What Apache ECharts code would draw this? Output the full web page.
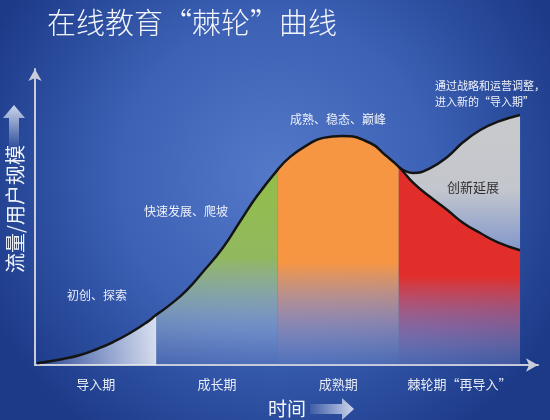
<!DOCTYPE html>
<html>
<head>
<meta charset="UTF-8">
<title>在线教育棘轮曲线</title>
<script src="https://cdn.jsdelivr.net/npm/echarts@6/dist/echarts.min.js"></script>
<style>
  html, body { margin: 0; padding: 0; }
  #main { width: 550px; height: 420px; }
</style>
</head>
<body>
<div id="main"></div>
<script>
// 时间轴上四个阶段的分界 (0~100)
var stageEdges = [0, 25, 50, 75, 100];
var stageNames = ['导入期', '成长期', '成熟期', '棘轮期“再导入”'];
var stageCenters = [12.5, 37.5, 62.5, 87.5];

// 主曲线 [时间, 流量]
var mainCurve = [
    [0.4, 0.6], [5.8, 2], [9.3, 3.3], [12.8, 5.3], [16.1, 7.6], [19.6, 10.6], [23.1, 14.2], [25, 16.6],
    [27.8, 19.9], [31.3, 24.8], [34.6, 30.8], [38.8, 39], [42.3, 47.6], [45.8, 56], [50, 64.6],
    [52.6, 68.9], [56.1, 72.8], [59.4, 75.2], [63.3, 75.8], [69.1, 73.5], [72.2, 69.5], [75, 65.6],
    [78, 60.3], [81.5, 55.6], [85, 51.3], [88.3, 47], [91.8, 43.7], [95.3, 40.7], [100, 38]
];
// 创新延展后的新曲线
var renewCurve = [
    [75, 65.6], [78, 63.6], [81.5, 65.2], [85, 68.9], [88.3, 73.8], [91.8, 77.8], [95.3, 80.5], [100, 82.8]
];

function stagePoints(i) {
    return mainCurve.filter(function (p) {
        return p[0] >= stageEdges[i] && p[0] <= stageEdges[i + 1];
    });
}

function vGrad(stops) {
    return { type: 'linear', x: 0, y: 0, x2: 0, y2: 1, colorStops: stops };
}

var stageFills = [
    { type: 'linear', x: 0, y: 0.2, x2: 1, y2: 0, colorStops: [
        { offset: 0, color: 'rgba(230,236,248,0.05)' },
        { offset: 1, color: 'rgba(235,238,246,0.9)' }] },
    vGrad([
        { offset: 0, color: 'rgba(146,190,72,1)' },
        { offset: 0.45, color: 'rgba(150,188,90,0.95)' },
        { offset: 0.8, color: 'rgba(175,195,215,0.45)' },
        { offset: 1, color: 'rgba(170,190,230,0.2)' }]),
    vGrad([
        { offset: 0, color: 'rgba(247,150,66,1)' },
        { offset: 0.55, color: 'rgba(247,150,66,1)' },
        { offset: 0.8, color: 'rgba(200,160,170,0.6)' },
        { offset: 1, color: 'rgba(160,180,225,0.25)' }]),
    vGrad([
        { offset: 0, color: 'rgba(226,46,42,1)' },
        { offset: 0.55, color: 'rgba(226,46,42,1)' },
        { offset: 0.8, color: 'rgba(190,110,150,0.6)' },
        { offset: 1, color: 'rgba(160,170,220,0.25)' }])
];

var series = [];
// 灰色的创新延展区域, 先画, 红色区域盖在下面部分
series.push({
    type: 'line',
    data: renewCurve,
    smooth: 0.5,
    showSymbol: false,
    lineStyle: { color: '#141414', width: 2.5 },
    areaStyle: {
        opacity: 1,
        color: vGrad([
            { offset: 0, color: '#c9cacc' },
            { offset: 0.3, color: '#c3c6cd' },
            { offset: 0.54, color: 'rgba(135,155,205,0.95)' },
            { offset: 0.62, color: 'rgba(135,155,205,0)' },
            { offset: 1, color: 'rgba(135,155,205,0)' }])
    },
    z: 2
});
for (var i = 0; i < 4; i++) {
    series.push({
        type: 'line',
        data: stagePoints(i),
        smooth: 0.5,
        showSymbol: false,
        lineStyle: { width: 0 },
        areaStyle: { color: stageFills[i], opacity: 1 },
        z: 2
    });
}
series.push({
    type: 'line',
    data: mainCurve,
    smooth: 0.5,
    showSymbol: false,
    lineStyle: { color: '#141414', width: 2.5 },
    z: 4
});

var txt = '#eef1f8';
var font = '"Noto Sans CJK SC", sans-serif';

var myChart = echarts.init(document.getElementById('main'));
var option = {
    animation: false,
    title: {
        text: '在线教育“棘轮”曲线',
        left: 42,
        top: 3,
        textStyle: { color: '#f3f5fb', fontSize: 29, fontWeight: 300, fontFamily: font }
    },
    grid: { left: 35, right: 12, top: 69, bottom: 55, outerBoundsMode: 'none' },
    xAxis: {
        type: 'value',
        min: 0,
        max: 103.7,
        splitLine: { show: false },
        axisTick: { show: false },
        axisLine: {
            lineStyle: { color: '#c8cdd9', width: 2 },
            symbol: ['none', 'arrow'],
            symbolSize: [10, 12]
        },
        axisLabel: {
            customValues: stageCenters,
            color: '#e8ecf5',
            fontSize: 13,
            fontFamily: font,
            margin: 13,
            formatter: function (v) {
                return stageNames[stageCenters.indexOf(v)];
            }
        }
    },
    yAxis: {
        type: 'value',
        min: 0,
        max: 98,
        splitLine: { show: false },
        axisTick: { show: false },
        axisLabel: { show: false },
        axisLine: {
            lineStyle: { color: '#c8cdd9', width: 2 },
            symbol: ['none', 'arrow'],
            symbolSize: [10, 12]
        }
    },
    graphic: [
        {
            type: 'rect', z: -100, silent: true,
            shape: { x: 0, y: 0, width: 550, height: 420 },
            style: {
                fill: { type: 'radial', x: 0.5, y: 0.42, r: 0.75, colorStops: [
                    { offset: 0, color: '#5479c9' },
                    { offset: 0.5, color: '#3c61b5' },
                    { offset: 1, color: '#1c3a88' }] }
            }
        },
        {
            type: 'polygon', silent: true,
            shape: { points: [[14, 105], [25, 118], [19, 118], [19, 150], [9, 150], [9, 118], [3, 118]] },
            style: { fill: vGrad([
                { offset: 0, color: 'rgba(215,222,240,0.95)' },
                { offset: 1, color: 'rgba(215,222,240,0)' }]) }
        },
        {
            type: 'polygon', silent: true,
            shape: { points: [[310, 404], [342, 404], [342, 398], [354, 409], [342, 420], [342, 414], [310, 414]] },
            style: { fill: { type: 'linear', x: 0, y: 0, x2: 1, y2: 0, colorStops: [
                { offset: 0, color: 'rgba(215,222,240,0.1)' },
                { offset: 1, color: 'rgba(215,222,240,0.95)' }] } }
        },
        { type: 'text', x: 15, y: 209, rotation: Math.PI / 2, style: { text: '流量/用户规模', fill: '#f0f3f9', font: '20px ' + font, textAlign: 'center', textVerticalAlign: 'middle' } },
        { type: 'text', x: 287, y: 409, style: { text: '时间', fill: '#f3f5fb', font: '19px ' + font, textAlign: 'center', textVerticalAlign: 'middle' } },
        { type: 'text', x: 97, y: 295, style: { text: '初创、探索', fill: txt, font: '12px ' + font, textAlign: 'center', textVerticalAlign: 'middle' } },
        { type: 'text', x: 186, y: 211, style: { text: '快速发展、爬坡', fill: txt, font: '12px ' + font, textAlign: 'center', textVerticalAlign: 'middle' } },
        { type: 'text', x: 338, y: 119, style: { text: '成熟、稳态、巅峰', fill: txt, font: '12px ' + font, textAlign: 'center', textVerticalAlign: 'middle' } },
        { type: 'text', x: 435, y: 94, style: { text: '通过战略和运营调整，\n进入新的“导入期”', fill: txt, font: '11px ' + font, lineHeight: 16, textAlign: 'left', textVerticalAlign: 'middle' } },
        { type: 'text', x: 473, y: 187, z: 10, style: { text: '创新延展', fill: '#2e2e33', font: '13px ' + font, textAlign: 'center', textVerticalAlign: 'middle' } }
    ],
    series: series
};
myChart.setOption(option);
</script>
</body>
</html>
